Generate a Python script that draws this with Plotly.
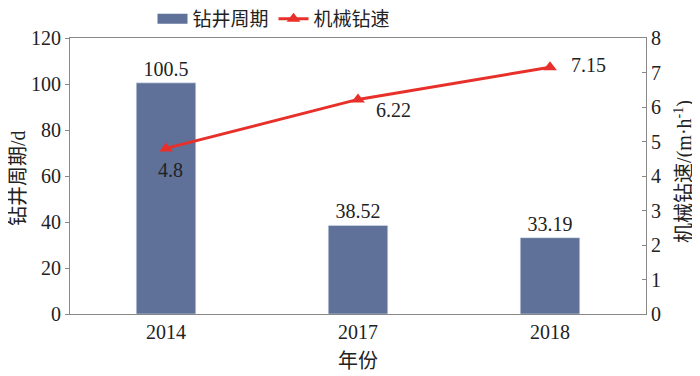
import plotly.graph_objects as go

years = ["2014", "2017", "2018"]
cycle_days = [100.5, 38.52, 33.19]
rop = [4.8, 6.22, 7.15]
cycle_labels = ["100.5", "38.52", "33.19"]
rop_labels = ["4.8", "6.22", "7.15"]
rop_label_shift = [(4, -22), (35, -11), (38, 2)]

FONT = "Liberation Serif, Noto Sans CJK SC, serif"
BAR_C = "#5f7198"
LINE_C = "#e8302a"

fig = go.Figure()
fig.add_trace(go.Bar(
    x=years, y=cycle_days, name="钻井周期", showlegend=False,
    marker=dict(color=BAR_C), width=0.31,
    text=cycle_labels, textposition="outside", cliponaxis=False,
    textfont=dict(size=20, color="#222", family=FONT),
))
# legend proxy for the bar series (wide rectangle swatch)
fig.add_trace(go.Scatter(
    x=[years[0]], y=[None], name="钻井周期", mode="lines",
    line=dict(color=BAR_C, width=10), showlegend=True,
))
fig.add_trace(go.Scatter(
    x=years, y=rop, name="机械钻速", yaxis="y2",
    mode="lines+markers",
    line=dict(color=LINE_C, width=3),
    marker=dict(symbol="triangle-up", size=12, color=LINE_C),
    cliponaxis=False,
))
# category axis: annotations are placed by category index
for i, (v, lab, (dx, dy)) in enumerate(zip(rop, rop_labels, rop_label_shift)):
    fig.add_annotation(x=i, y=v, yref="y2", text=lab, showarrow=False,
                       xshift=dx, yshift=dy,
                       font=dict(size=20, color="#222", family=FONT))

# axis titles
title_font = dict(size=20, color="#222", family=FONT)
fig.add_annotation(text="钻井周期/d", xref="paper", yref="paper", x=-0.090, y=0.493,
                   xanchor="center", yanchor="middle",
                   textangle=-90, showarrow=False, font=title_font)
fig.add_annotation(text="机械钻速/(m·h<sup>-1</sup>)", xref="paper", yref="paper",
                   x=1.064, y=0.518, xanchor="center", yanchor="middle",
                   textangle=-90, showarrow=False, font=title_font)
fig.add_annotation(text="年份", xref="paper", yref="paper", x=0.5, y=-0.170,
                   xanchor="center", yanchor="middle",
                   showarrow=False, font=title_font)

fig.update_layout(
    width=700, height=376,
    margin=dict(l=62, r=62, t=30, b=70, autoexpand=False),
    plot_bgcolor="white", paper_bgcolor="white",
    font=dict(family=FONT, size=20, color="#222"),
    showlegend=True,
    legend=dict(orientation="h", x=0.38, xanchor="center", xref="container",
                y=1.069, yanchor="middle", yref="paper",
                bgcolor="rgba(0,0,0,0)", font=dict(size=19), itemwidth=30,
                tracegroupgap=0),
    xaxis=dict(type="category", showline=True, linecolor="#888", mirror=True, ticks="",
               automargin=False, range=[-0.5, len(years) - 0.5]),
    yaxis=dict(range=[0, 120], dtick=20, showline=True, linecolor="#888", automargin=False,
               ticks="outside", ticklen=4, tickcolor="#888", showgrid=False, zeroline=False),
    yaxis2=dict(range=[0, 8], dtick=1, overlaying="y", side="right", showline=True,
                linecolor="#888", ticks="inside", ticklen=4, tickcolor="#888", automargin=False,
                showgrid=False, zeroline=False),
)
fig.write_html("out.html")
